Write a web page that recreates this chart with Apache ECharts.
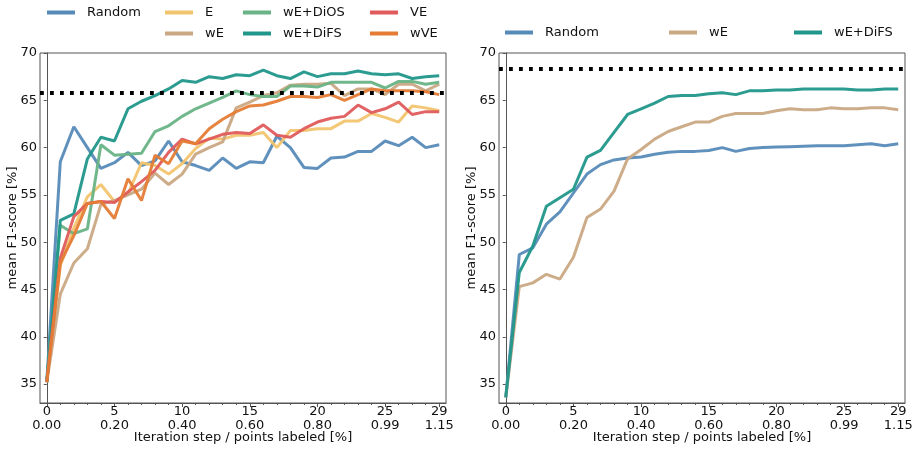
<!DOCTYPE html>
<html>
<head>
<meta charset="utf-8">
<script src="https://cdn.jsdelivr.net/npm/echarts@6/dist/echarts.min.js"></script>
<style>html,body{margin:0;padding:0;background:#fff;}#c{width:919px;height:450px;}</style>
</head>
<body>
<div id="c"></div>
<script>
// ---- data ----
const stepTicks = [0, 5, 10, 15, 20, 25, 29];
const pctLabels = ['0.00', '0.20', '0.40', '0.60', '0.80', '0.99', '1.15'];
const yTicks = [35, 40, 45, 50, 55, 60, 65, 70];

// left panel
const leftRandom = [35.2, 58.5, 62.2, 60.0, 57.8, 58.4, 59.5, 58.1, 58.6, 60.7, 58.5, 58.1, 57.6, 58.9, 57.8, 58.5, 58.4, 61.2, 60.0, 57.9, 57.8, 58.9, 59.0, 59.6, 59.6, 60.7, 60.2, 61.1, 60.0, 60.3];
const leftE      = [35.2, 47.5, 51.5, 54.8, 56.1, 54.3, 55.1, 58.4, 58.1, 57.2, 58.3, 59.9, 61.0, 60.9, 61.3, 61.3, 61.6, 60.0, 61.8, 61.8, 62.0, 62.0, 62.8, 62.8, 63.6, 63.2, 62.7, 64.4, 64.2, 63.9];
const leftWE     = [35.2, 44.5, 47.8, 49.3, 54.0, 54.4, 55.0, 55.6, 57.3, 56.1, 57.2, 59.3, 60.0, 60.6, 64.2, 64.8, 65.5, 65.8, 66.6, 66.7, 66.7, 66.8, 65.5, 66.2, 66.2, 65.6, 66.7, 66.7, 66.0, 66.7];
const leftDiOS   = [35.2, 51.8, 50.9, 51.4, 60.3, 59.2, 59.3, 59.4, 61.7, 62.3, 63.3, 64.1, 64.7, 65.3, 66.0, 65.6, 65.4, 65.4, 66.5, 66.5, 66.4, 66.9, 66.9, 66.9, 66.9, 66.3, 67.0, 67.0, 66.7, 66.9];
const leftDiFS   = [35.2, 52.3, 53.0, 58.8, 61.1, 60.7, 64.1, 64.9, 65.5, 66.2, 67.1, 66.9, 67.5, 67.3, 67.7, 67.6, 68.2, 67.6, 67.3, 68.0, 67.5, 67.8, 67.8, 68.1, 67.8, 67.7, 67.8, 67.3, 67.5, 67.6];
const leftVE     = [35.2, 48.3, 52.7, 54.1, 54.3, 54.2, 55.3, 56.4, 57.6, 59.5, 60.9, 60.4, 60.9, 61.4, 61.6, 61.5, 62.4, 61.3, 61.1, 62.0, 62.7, 63.1, 63.3, 64.5, 63.7, 64.1, 64.8, 63.5, 63.8, 63.8];
const leftWVE    = [35.2, 47.8, 50.7, 54.1, 54.3, 52.5, 56.7, 54.4, 59.2, 58.3, 60.7, 60.4, 62.0, 63.0, 63.8, 64.4, 64.5, 64.9, 65.4, 65.4, 65.3, 65.6, 65.0, 65.6, 66.2, 66.0, 66.0, 66.0, 65.9, 65.6];
const leftRef = 65.77;

// right panel
const rightRandom = [33.6, 48.7, 49.4, 51.9, 53.2, 55.2, 57.2, 58.2, 58.7, 58.9, 59.0, 59.3, 59.5, 59.6, 59.6, 59.7, 60.0, 59.6, 59.9, 60.0, 60.05, 60.1, 60.15, 60.2, 60.2, 60.2, 60.3, 60.4, 60.2, 60.4];
const rightWE     = [33.6, 45.3, 45.7, 46.6, 46.1, 48.4, 52.6, 53.5, 55.4, 58.8, 59.8, 60.9, 61.7, 62.2, 62.7, 62.7, 63.3, 63.6, 63.6, 63.6, 63.9, 64.1, 64.0, 64.0, 64.2, 64.1, 64.1, 64.2, 64.2, 64.0];
const rightDiFS   = [33.6, 46.8, 49.6, 53.8, 54.7, 55.6, 59.0, 59.7, 61.6, 63.5, 64.1, 64.7, 65.4, 65.5, 65.5, 65.7, 65.8, 65.6, 66.0, 66.0, 66.1, 66.1, 66.2, 66.2, 66.2, 66.2, 66.1, 66.1, 66.2, 66.2];
const rightRef = 68.3;

// ---- styling ----
const COLORS = {
  'Random': '#568bb8',
  'E': '#f2c46e',
  'wE': '#c9a883',
  'wE+DiOS': '#69b386',
  'wE+DiFS': '#21978a',
  'VE': '#e05b5b',
  'wVE': '#e47c35'
};
const FONT = 'DejaVu Sans';
const TXT = '#111';
const SPINE = '#555';

const minorTicks = [];
for (let i = 0; i <= 29; i++) minorTicks.push(i);

function toPts(arr) { return arr.map((v, i) => [i, v]); }

function xAxes(gi) {
  return [{
    type: 'value', gridIndex: gi, min: -0.5, max: 29.5, position: 'bottom',
    axisLine: { show: true, lineStyle: { color: SPINE, width: 1 } },
    axisTick: { show: true, length: 4, customValues: stepTicks, lineStyle: { color: SPINE } },
    axisLabel: {
      customValues: stepTicks, margin: 2, color: TXT, fontFamily: FONT, fontSize: 13, lineHeight: 13.5,
      formatter: v => { const k = stepTicks.indexOf(v); return k < 0 ? '' : (v + '\n' + pctLabels[k]); }
    },
    splitLine: { show: false },
    name: 'Iteration step / points labeled [%]', nameLocation: 'middle', nameGap: 28, nameMoveOverlap: false,
    nameTextStyle: { color: TXT, fontFamily: FONT, fontSize: 13 }
  }, {
    type: 'value', gridIndex: gi, min: -0.5, max: 29.5, position: 'bottom',
    axisLine: { show: false },
    axisTick: { show: true, length: 2, customValues: minorTicks, lineStyle: { color: SPINE } },
    axisLabel: { show: false },
    splitLine: { show: false }
  }];
}

function yAxis(gi) {
  return {
    type: 'value', gridIndex: gi, min: 33, max: 70,
    axisLine: { show: true, lineStyle: { color: SPINE, width: 1 } },
    axisTick: { show: true, length: 3, customValues: yTicks, lineStyle: { color: SPINE } },
    axisLabel: { customValues: yTicks, margin: 3, color: TXT, fontFamily: FONT, fontSize: 13 },
    splitLine: { show: false },
    name: 'mean F1-score [%]', nameLocation: 'middle', nameGap: 21, nameMoveOverlap: false,
    nameTextStyle: { color: TXT, fontFamily: FONT, fontSize: 13 }
  };
}

function lineSeries(name, arr, xi, yi) {
  return {
    type: 'line', name: name, xAxisIndex: xi, yAxisIndex: yi, data: toPts(arr),
    showSymbol: false, symbol: 'none', color: COLORS[name],
    lineStyle: { width: 3, color: COLORS[name], opacity: 0.95 }, emphasis: { disabled: true }, z: 3
  };
}

function refLine(val, xi, yi) {
  return {
    type: 'line', name: 'ref' + xi, xAxisIndex: xi, yAxisIndex: yi, data: [],
    markLine: {
      silent: true, symbol: 'none', label: { show: false },
      lineStyle: { color: '#000', width: 3.8, type: [3.8, 6.2], cap: 'butt' },
      data: [{ yAxis: val }]
    }, z: 5
  };
}

function legend(names, left, top, orient) {
  return {
    data: names, left: left, top: top, orient: orient || 'vertical', padding: 0,
    itemWidth: 28, itemHeight: 4, itemGap: 6, icon: 'rect',
    textStyle: { color: TXT, fontFamily: FONT, fontSize: 13, lineHeight: 15, padding: [0, 0, 0, 7] },
    selectedMode: false
  };
}

const option = {
  animation: false,
  backgroundColor: '#fff',
  grid: [
    { left: 40, top: 53, width: 406, height: 350, show: true, borderColor: SPINE, borderWidth: 1, containLabel: false, outerBoundsMode: 'none' },
    { left: 499, top: 53, width: 406, height: 350, show: true, borderColor: SPINE, borderWidth: 1, containLabel: false, outerBoundsMode: 'none' }
  ],
  xAxis: [].concat(xAxes(0), xAxes(1)),
  yAxis: [yAxis(0), yAxis(1)],
  legend: [
    legend(['Random'], 47, 5),
    legend(['E', 'wE'], 165, 5),
    legend(['wE+DiOS', 'wE+DiFS'], 243, 5),
    legend(['VE', 'wVE'], 370, 5),
    legend(['Random'], 505, 25),
    legend(['wE'], 669, 25),
    legend(['wE+DiFS'], 794, 25)
  ],
  series: [
    lineSeries('Random', leftRandom, 0, 0),
    lineSeries('E', leftE, 0, 0),
    lineSeries('wE', leftWE, 0, 0),
    lineSeries('wE+DiOS', leftDiOS, 0, 0),
    lineSeries('wE+DiFS', leftDiFS, 0, 0),
    lineSeries('VE', leftVE, 0, 0),
    lineSeries('wVE', leftWVE, 0, 0),
    refLine(leftRef, 0, 0),
    lineSeries('Random', rightRandom, 2, 1),
    lineSeries('wE', rightWE, 2, 1),
    lineSeries('wE+DiFS', rightDiFS, 2, 1),
    refLine(rightRef, 2, 1)
  ]
};

const chart = echarts.init(document.getElementById('c'), null, { renderer: 'canvas' });
chart.setOption(option);
</script>
</body>
</html>
